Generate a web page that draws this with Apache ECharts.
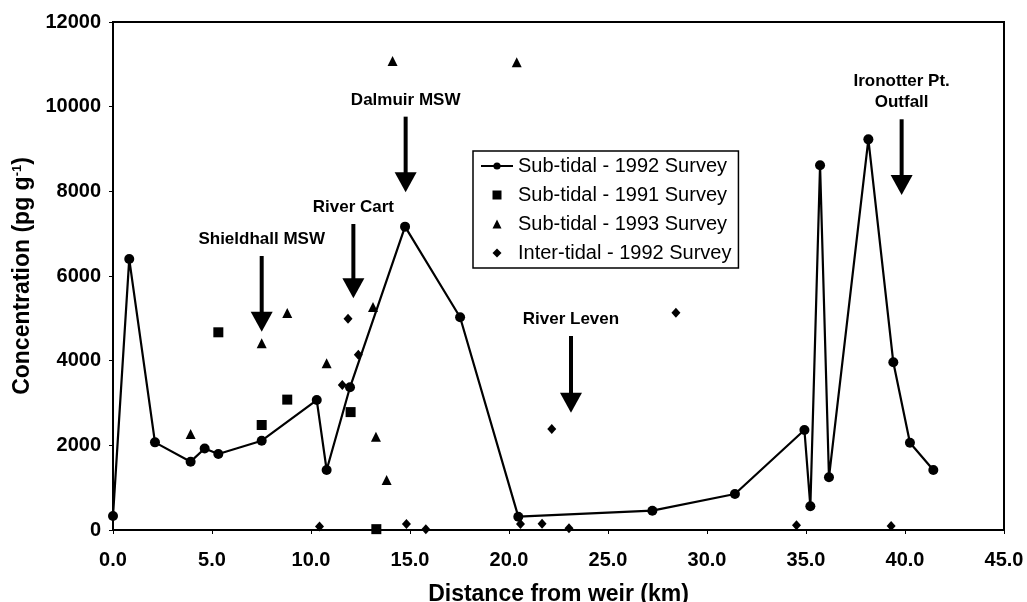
<!DOCTYPE html>
<html>
<head>
<meta charset="utf-8">
<title>Concentration vs distance from weir</title>
<script src="https://cdn.jsdelivr.net/npm/echarts@6/dist/echarts.min.js"></script>
<style>
  html, body { margin: 0; padding: 0; background: #fff; }
  #chart { width: 1027px; height: 602px; }
</style>
</head>
<body>
<div id="chart"></div>
<script>
// Sub-tidal survey, 1992 (joined by a line)
const subTidal1992Km   = [0, 0.82, 2.12, 3.92, 4.63, 5.32, 7.51, 10.29, 10.79, 11.97, 14.75, 17.53, 20.47, 27.24, 31.41, 34.92, 35.22, 35.71, 36.16, 38.15, 39.41, 40.25, 41.43];
const subTidal1992Conc = [330, 6400, 2070, 1614, 1925, 1795, 2110, 3070, 1417, 3371, 7166, 5025, 315, 456, 850, 2362, 560, 8615, 1244, 9228, 3961, 2063, 1417];

// Sub-tidal survey, 1991
const subTidal1991Km   = [5.32, 7.51, 8.8, 12.0, 13.3];
const subTidal1991Conc = [4670, 2480, 3080, 2785, 20];

// Sub-tidal survey, 1993
const subTidal1993Km   = [3.92, 7.51, 8.8, 10.79, 13.13, 13.28, 13.82, 14.12, 20.39];
const subTidal1993Conc = [2265, 4410, 5125, 3937, 5270, 2205, 1180, 11080, 11050];

// Inter-tidal survey, 1992
const interTidal1992Km   = [10.43, 11.58, 11.87, 12.39, 14.82, 15.8, 20.58, 21.67, 22.16, 23.03, 28.43, 34.52, 39.3];
const interTidal1992Conc = [80, 3425, 4990, 4140, 140, 15, 140, 150, 2386, 39, 5134, 110, 94];

// Discharge points along the estuary, marked with arrows
const siteNames  = ['Shieldhall MSW', 'River Cart', 'Dalmuir MSW', 'River Leven', 'Ironotter Pt.\nOutfall'];
const siteKm     = [7.51, 12.14, 14.78, 23.13, 39.83];
const arrowFrom  = [6473, 7229, 9764, 4583, 9702];
const arrowTo    = [4685, 5474, 7978, 2771, 7914];

const seriesNames = ['Sub-tidal - 1992 Survey', 'Sub-tidal - 1991 Survey', 'Sub-tidal - 1993 Survey', 'Inter-tidal - 1992 Survey'];

const FONT = '"Liberation Sans", Arial, Helvetica, sans-serif';

function pairs(xs, ys) {
  return xs.map((x, i) => [x, ys[i]]);
}

function renderArrow(params, api) {
  const km = api.value(0);
  const p0 = api.coord([km, api.value(1)]);
  const p1 = api.coord([km, api.value(2)]);
  const headH = 20, headW = 22;
  return {
    type: 'group',
    children: [
      { type: 'line', shape: { x1: p0[0], y1: p0[1], x2: p1[0], y2: p1[1] - headH + 2 },
        style: { stroke: '#000', lineWidth: 4 } },
      { type: 'polygon', shape: { points: [[p1[0] - headW / 2, p1[1] - headH], [p1[0] + headW / 2, p1[1] - headH], [p1[0], p1[1]]] },
        style: { fill: '#000' } },
      { type: 'text', x: p0[0], y: p0[1] - 6,
        style: { text: siteNames[params.dataIndex], fill: '#000', font: 'bold 17px ' + FONT,
                 align: 'center', verticalAlign: 'bottom', lineHeight: 21 } }
    ]
  };
}

const chart = echarts.init(document.getElementById('chart'), null, { renderer: 'canvas' });

chart.setOption({
  animation: false,
  backgroundColor: '#fff',
  textStyle: { fontFamily: FONT, color: '#000' },
  grid: {
    left: 113, right: 23, top: 22, bottom: 72,
    containLabel: false,
    outerBoundsMode: 'none',
    show: true, borderColor: '#000', borderWidth: 2, backgroundColor: 'transparent'
  },
  legend: {
    orient: 'vertical',
    left: 473, top: 151,
    padding: [5, 7, 5, 7],
    itemGap: 9,
    itemWidth: 32,
    itemHeight: 9,
    borderColor: '#000', borderWidth: 1.5, borderRadius: 0,
    backgroundColor: '#fff',
    selectedMode: false,
    textStyle: { fontSize: 20, fontFamily: FONT, color: '#000', padding: [0, 0, 0, 0] },
    data: [
      { name: seriesNames[0] },
      { name: seriesNames[1], icon: 'path://M0,0H10V10H0Z' },
      { name: seriesNames[2], icon: 'path://M5,0L10,10L0,10Z' },
      { name: seriesNames[3], icon: 'path://M5,0L10,5L5,10L0,5Z' }
    ]
  },
  xAxis: {
    type: 'value',
    min: 0, max: 45, interval: 5,
    name: 'Distance from weir (km)',
    nameLocation: 'middle',
    nameGap: 53,
    nameTextStyle: { fontSize: 23, fontWeight: 'bold', fontFamily: FONT, color: '#000' },
    axisLine: { show: true, lineStyle: { color: '#000', width: 2 } },
    axisTick: { show: true, length: 4, lineStyle: { color: '#000', width: 1 } },
    axisLabel: { fontSize: 20, fontWeight: 'bold', fontFamily: FONT, color: '#000', margin: 20,
                 formatter: v => v.toFixed(1) },
    splitLine: { show: false }
  },
  yAxis: {
    type: 'value',
    min: 0, max: 12000, interval: 2000,
    name: 'Concentration (pg g{sup|-1})',
    nameLocation: 'middle',
    nameRotate: 90,
    nameGap: 76,
    nameTextStyle: {
      fontSize: 23, fontWeight: 'bold', fontFamily: FONT, color: '#000',
      rich: { sup: { fontSize: 13, fontWeight: 'bold', fontFamily: FONT, color: '#000', verticalAlign: 'top', padding: [0, 0, 12, 0] } }
    },
    axisLine: { show: true, lineStyle: { color: '#000', width: 2 } },
    axisTick: { show: true, length: 4, lineStyle: { color: '#000', width: 1 } },
    axisLabel: { fontSize: 20, fontWeight: 'bold', fontFamily: FONT, color: '#000', margin: 12,
                 formatter: v => String(v) },
    splitLine: { show: false }
  },
  series: [
    {
      name: seriesNames[0],
      type: 'line',
      data: pairs(subTidal1992Km, subTidal1992Conc),
      symbol: 'circle', symbolSize: 10,
      showAllSymbol: true,
      lineStyle: { color: '#000', width: 2.2 },
      itemStyle: { color: '#000', opacity: 1 },
      z: 3
    },
    {
      name: seriesNames[1],
      type: 'scatter',
      data: pairs(subTidal1991Km, subTidal1991Conc),
      symbol: 'rect', symbolSize: 10,
      itemStyle: { color: '#000', opacity: 1 }
    },
    {
      name: seriesNames[2],
      type: 'scatter',
      data: pairs(subTidal1993Km, subTidal1993Conc),
      symbol: 'triangle', symbolSize: 10,
      itemStyle: { color: '#000', opacity: 1 }
    },
    {
      name: seriesNames[3],
      type: 'scatter',
      data: pairs(interTidal1992Km, interTidal1992Conc),
      symbol: 'diamond', symbolSize: [9, 10],
      itemStyle: { color: '#000', opacity: 1 }
    },
    {
      name: 'sites',
      type: 'custom',
      renderItem: renderArrow,
      data: siteKm.map((km, i) => [km, arrowFrom[i], arrowTo[i]]),
      encode: { x: 0, y: [1, 2] },
      silent: true,
      z: 5
    }
  ]
});
</script>
</body>
</html>
